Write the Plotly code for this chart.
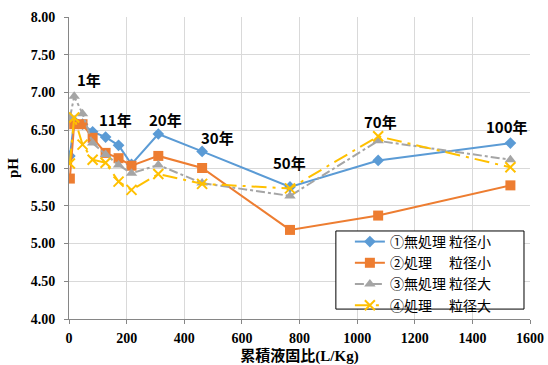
import plotly.graph_objects as go

# cumulative liquid/solid ratio (L/Kg)
ratio = [3, 18, 47, 82, 127, 172, 217, 310, 462, 767, 1073, 1532]

ph_untreated_small = [6.16, 6.62, 6.58, 6.48, 6.41, 6.30, 6.05, 6.45, 6.22, 5.75, 6.10, 6.33]
ph_treated_small = [5.86, 6.58, 6.58, 6.40, 6.20, 6.13, 6.03, 6.16, 6.00, 5.18, 5.37, 5.77]
ph_untreated_large = [6.66, 6.95, 6.72, 6.33, 6.18, 6.04, 5.93, 6.04, 5.80, 5.63, 6.36, 6.11]
ph_treated_large = [6.06, 6.67, 6.31, 6.11, 6.07, 5.82, 5.71, 5.92, 5.79, 5.73, 6.42, 6.01]

series_names = ["①無処理 粒径小", "②処理\u3000 粒径小", "③無処理 粒径大", "④処理\u3000 粒径大"]

# elapsed-year labels: (text, x, y)
year_labels = [
    ("1年", 68, 7.17),
    ("11年", 162, 6.64),
    ("20年", 336, 6.64),
    ("30年", 517, 6.41),
    ("50年", 766, 6.07),
    ("70年", 1082, 6.61),
    ("100年", 1520, 6.55),
]

x_ticks = [0, 200, 400, 600, 800, 1000, 1200, 1400, 1600]

fig = go.Figure()

styles = [
    dict(color="#5B9BD5", symbol="diamond", size=9, dash="solid"),
    dict(color="#ED7D31", symbol="square", size=10, dash="solid"),
    dict(color="#A5A5A5", symbol="triangle-up", size=10, dash="dashdot"),
    dict(color="#FFC000", symbol="x-thin", size=10, dash="longdashdot"),
]
values = [ph_untreated_small, ph_treated_small, ph_untreated_large, ph_treated_large]

for name, ys, st in zip(series_names, values, styles):
    marker = dict(symbol=st["symbol"], size=st["size"], color=st["color"])
    if st["symbol"] == "x-thin":
        marker["line"] = dict(color=st["color"], width=2)
    fig.add_trace(go.Scatter(
        x=ratio, y=ys, name=name, mode="lines+markers",
        line=dict(color=st["color"], width=2, dash=st["dash"]),
        marker=marker,
    ))

for text, x, y in year_labels:
    fig.add_annotation(
        x=x, y=y, text=text, showarrow=False,
        font=dict(family="Noto Sans CJK JP", size=15, color="#000000", weight="bold"),
    )

# legend frame
fig.add_shape(type="rect", xref="paper", yref="paper",
              x0=(336 - 69.3) / 460.7, x1=(524 - 69.3) / 460.7,
              y0=(318.9 - 309) / 301.6, y1=(318.9 - 231) / 301.6,
              line=dict(color="#000000", width=1), fillcolor="white", layer="above")

serif = "Liberation Serif, Times New Roman, serif"

fig.update_layout(
    width=548, height=365,
    margin=dict(l=69.3, r=18, t=17.3, b=46),
    paper_bgcolor="white", plot_bgcolor="white",
    showlegend=True,
    legend=dict(
        x=(350 - 69.3) / 460.7, y=(318.9 - 226) / 301.6,
        xanchor="left", yanchor="top",
        bgcolor="rgba(0,0,0,0)", borderwidth=0,
        font=dict(family="Noto Sans CJK JP", size=14, color="#000000"),
        tracegroupgap=0, itemwidth=30,
    ),
    xaxis=dict(
        range=[0, 1600], tickvals=x_ticks, automargin=False,
        showgrid=True, gridcolor="#D9D9D9", gridwidth=1,
        showline=True, linecolor="#868686", linewidth=1,
        ticks="outside", ticklen=4, tickcolor="#868686",
        ticklabelstandoff=2,
        zeroline=False,
        tickfont=dict(family=serif, size=14, color="#000000", weight="bold"),
        title=dict(text="累積液固比(L/Kg)", standoff=6,
                   font=dict(family="Liberation Serif, Noto Sans CJK JP", size=15,
                             color="#000000", weight="bold")),
    ),
    yaxis=dict(
        range=[4, 8], dtick=0.5, tickformat=".2f", automargin=False,
        showgrid=True, gridcolor="#D9D9D9", gridwidth=1,
        showline=True, linecolor="#868686", linewidth=1,
        ticks="outside", ticklen=4, tickcolor="#868686",
        ticklabelstandoff=6,
        zeroline=False,
        tickfont=dict(family=serif, size=14, color="#000000", weight="bold"),
        title=dict(text="pH", standoff=8,
                   font=dict(family=serif, size=15, color="#000000", weight="bold")),
    ),
)

fig.write_html("out.html")
